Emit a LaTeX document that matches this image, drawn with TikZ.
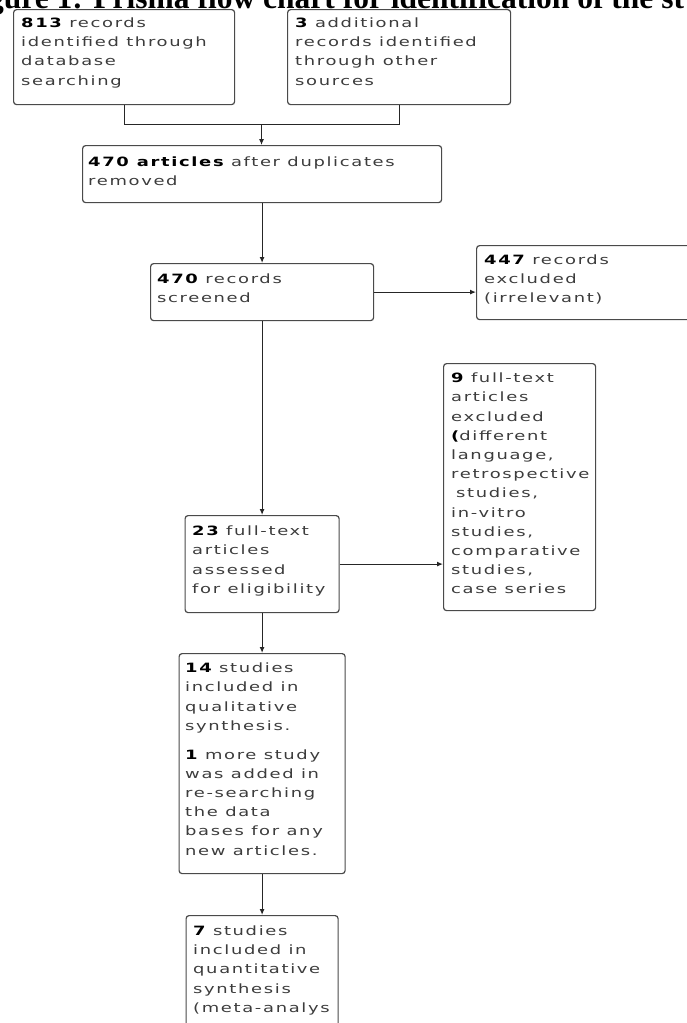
\documentclass[tikz,border=0pt]{standalone}
\usepackage{fontspec}
\setmainfont{DejaVu Sans}
\newfontfamily\boxfont[FakeStretch=1.4,LetterSpace=13]{DejaVu Sans}
\newfontfamily\titlefont{Liberation Serif}
\usetikzlibrary{arrows.meta}
\definecolor{boxline}{HTML}{4A4A4A}
\definecolor{bodytext}{HTML}{3C3C3C}
\newcommand\nb[1]{\textbf{\color{black}#1}}
\tikzset{
  box/.style={draw=boxline, line width=1.2pt, rounded corners=3pt, fill=white, anchor=north west, inner sep=0pt},
  txt/.style={anchor=north west, inner sep=0pt, align=left, font=\boxfont\fontsize{12.8}{19.2}\selectfont, text=bodytext},
  conn/.style={line width=1.1pt, draw=black!85},
  arr/.style={conn, -{Latex[length=6pt,width=5pt]}}
}
\begin{document}
\begin{tikzpicture}[x=1pt, y=-1pt]
\useasboundingbox (0,0) rectangle (687,1023);
\clip (0,0) rectangle (687,1023);
\fill[white] (0,0) rectangle (687,1023);
% title (clipped at top)
\node[anchor=base west, inner sep=0pt, font=\titlefont\bfseries\fontsize{31.5}{31.5}\selectfont] (title) at (-12,8) {gure 1: Prisma flow chart for identification of the st};
% boxes
\node[box, minimum width=221, minimum height=95] (b1) at (13,9) {};
\node[box, minimum width=223, minimum height=95] (b2) at (287,9) {};
\node[box, minimum width=359, minimum height=57] (b3) at (82,145) {};
\node[box, minimum width=223, minimum height=57] (b4) at (150,263) {};
\node[box, minimum width=240, minimum height=74] (b5) at (476,245) {};
\node[box, minimum width=154, minimum height=97] (b6) at (184.5,515) {};
\node[box, minimum width=152, minimum height=247] (b7) at (443,363) {};
\node[box, minimum width=166, minimum height=220] (b8) at (178.5,653) {};
\node[box, minimum width=152, minimum height=140] (b9) at (185.5,915) {};
% texts
\node[txt] (t1) at (21,17.6) {\nb{813} records\\identified through\\database\\searching};
\node[txt] (t2) at (295,17.6) {\nb{3} additional\\records identified\\through other\\sources};
\node[txt] (t3) at (88,156.5) {\nb{470 articles} after duplicates\\removed};
\node[txt] (t4) at (157,273.6) {\nb{470} records\\screened};
\node[txt] (t5) at (484,254.5) {\nb{447} records\\excluded\\(irrelevant)};
\node[txt] (t6) at (192,525.8) {\nb{23} full-text\\articles\\assessed\\for eligibility};
\node[txt] (t7) at (451,372.8) {\nb{9} full-text\\articles\\excluded\\\nb{(}different\\language,\\retrospective\\\hspace*{5pt}studies,\\in-vitro\\studies,\\comparative\\studies,\\case series};
\node[txt] (t8) at (185,662.8) {\nb{14} studies\\included in\\qualitative\\synthesis.\\[9.5pt]\nb{1} more study\\was added in\\re-searching\\the data\\bases for any\\new articles.};
\node[txt] (t9) at (193,925.5) {\nb{7} studies\\included in\\quantitative\\synthesis\\(meta-analys};
% connectors
\coordinate (jn) at (261.5,124.5);
\draw[conn] (b1.south) |- (jn);
\draw[conn] (b2.south) |- (jn);
\draw[arr] (jn) -- (b3.north -| jn);
\draw[arr] (b3.south) -- (b4.north);
\draw[arr] (b4.east) -- (b4.east -| b5.west);
\draw[arr] (b4.south) -- (b4.south |- b6.north);
\draw[arr] (b6.east) -- (b6.east -| b7.west);
\draw[arr] (b6.south) -- (b6.south |- b8.north);
\draw[arr] (b8.south) -- (b8.south |- b9.north);
\end{tikzpicture}
\end{document}
